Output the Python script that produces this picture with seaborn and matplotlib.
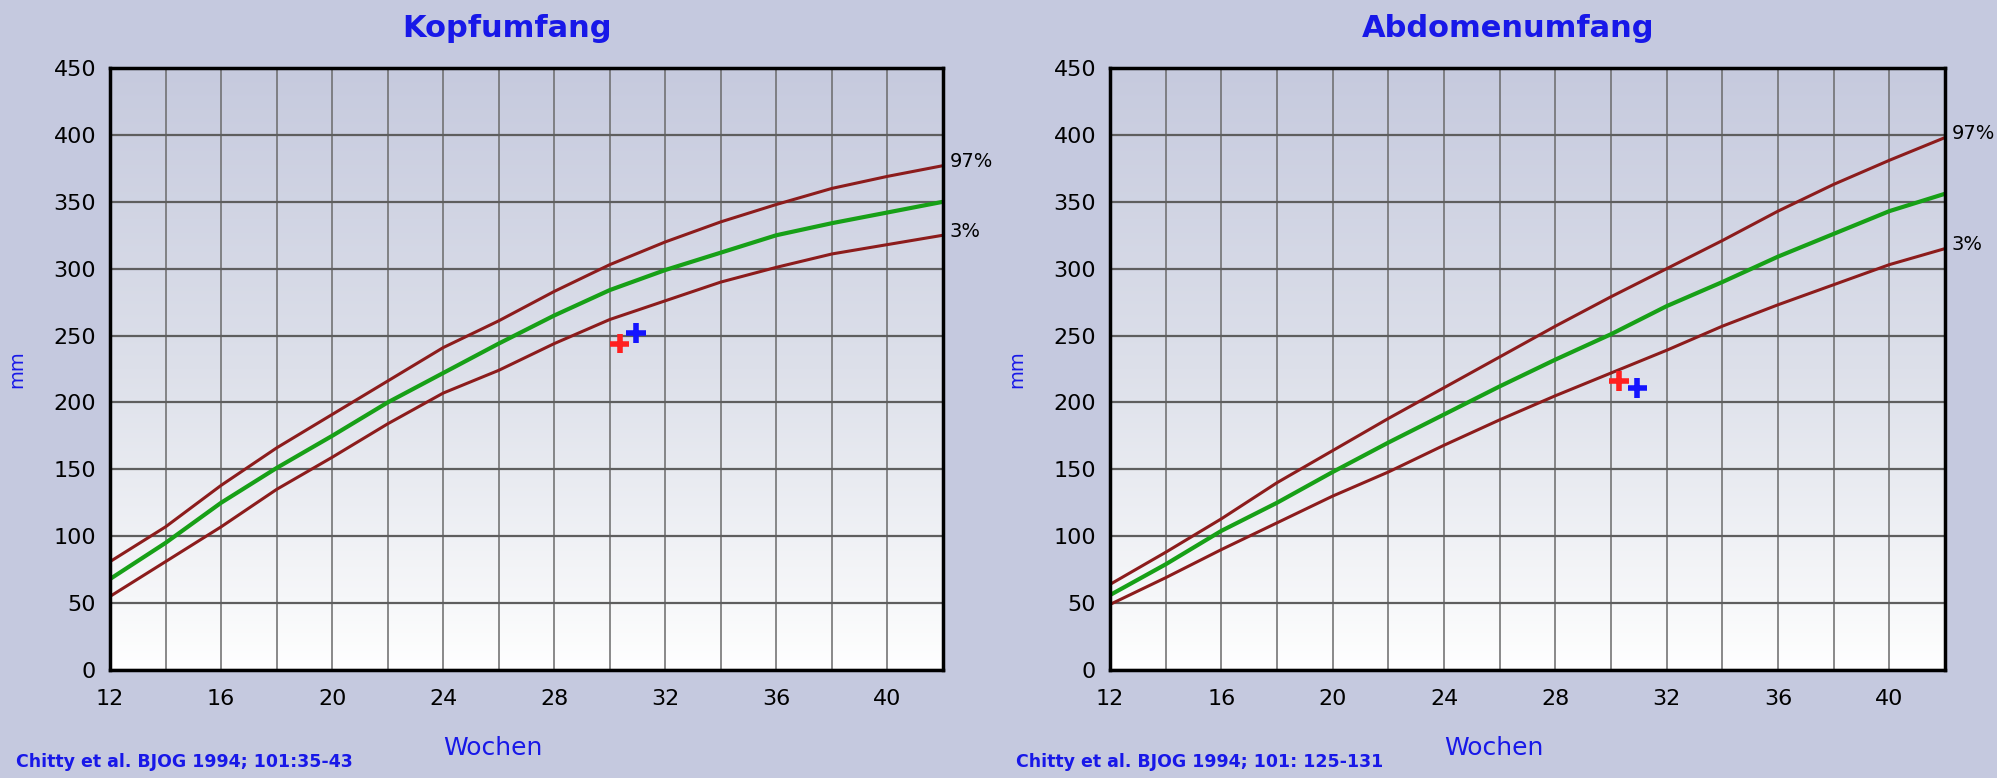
import numpy as np
import matplotlib
matplotlib.use("Agg")
import matplotlib.pyplot as plt
from matplotlib.colors import LinearSegmentedColormap
import seaborn as sns

sns.set_theme(style="whitegrid")
plt.rcParams['font.family'] = ['DejaVu Sans']

# ---------------------------------------------------------------
# Data (every 2 weeks)
# ---------------------------------------------------------------
weeks = [12, 14, 16, 18, 20, 22, 24, 26, 28, 30, 32, 34, 36, 38, 40, 42]

# Kopfumfang (head circumference), mm
hc_p97 = [81, 107, 138, 166, 191, 216, 241, 261, 283, 303, 320, 335, 348, 360, 369, 377]
hc_p50 = [68, 95, 125, 151, 175, 200, 222, 244, 265, 284, 299, 312, 325, 334, 342, 350]
hc_p3 = [55, 81, 107, 135, 159, 184, 207, 224, 244, 262, 276, 290, 301, 311, 318, 325]

# Abdomenumfang (abdominal circumference), mm
ac_p97 = [64, 88, 113, 140, 164, 188, 211, 234, 257, 279, 300, 321, 343, 363, 381, 398]
ac_p50 = [56, 79, 104, 125, 148, 170, 191, 212, 232, 251, 272, 290, 309, 326, 343, 356]
ac_p3 = [49, 69, 90, 110, 130, 148, 168, 187, 205, 222, 239, 257, 273, 288, 303, 315]

# measurements (week, mm): red / blue
hc_meas_weeks = [30.35, 30.95]
hc_meas_vals = [244, 252]
ac_meas_weeks = [30.28, 30.95]
ac_meas_vals = [216, 211]
meas_colors = ["#ff2020", "#1414ff"]

x_ticks = [12, 16, 20, 24, 28, 32, 36, 40]
y_ticks = [0, 50, 100, 150, 200, 250, 300, 350, 400, 450]

RED = "#8c1c1c"
GREEN = "#17a017"
BLUE_TXT = "#1818e8"
FIG_BG = "#c5c9df"

bg_cmap = LinearSegmentedColormap.from_list(
    "bg", [(0.0, "#ffffff"), (0.12, "#f6f7f9"), (0.5, "#dde0ea"), (1.0, "#c6cade")])


def draw_panel(ax, title, p97, p50, p3, m_weeks, m_vals, citation):
    # gradient background
    grad = np.linspace(0, 1, 256).reshape(-1, 1)
    ax.imshow(grad, extent=[12, 42, 0, 450], origin="lower", aspect="auto",
              cmap=bg_cmap, zorder=-2)

    sns.lineplot(x=weeks, y=p97, ax=ax, color=RED, linewidth=2.2)
    sns.lineplot(x=weeks, y=p50, ax=ax, color=GREEN, linewidth=3.0)
    sns.lineplot(x=weeks, y=p3, ax=ax, color=RED, linewidth=2.2)

    sns.scatterplot(x=m_weeks, y=m_vals, ax=ax, hue=[0, 1], palette=meas_colors,
                    marker="+", s=200, linewidth=4, legend=False, zorder=5)

    ax.set_xlim(12, 42)
    ax.set_ylim(0, 450)
    ax.set_xticks(x_ticks)
    ax.set_xticks(range(12, 43, 2), minor=True)
    ax.set_yticks(y_ticks)
    ax.grid(True, which="both", axis="x", color="#6a6a6a", linewidth=1.1)
    ax.grid(True, which="major", axis="y", color="#5e5e5e", linewidth=1.6)
    ax.tick_params(axis="both", which="both", length=0, labelsize=16, colors="black")
    ax.tick_params(axis="x", pad=14)
    ax.tick_params(axis="y", pad=10)
    for sp in ax.spines.values():
        sp.set_visible(True)
        sp.set_color("black")
        sp.set_linewidth(2.5)

    # percentile labels at the line ends
    ax.annotate("97%", xy=(weeks[-1], p97[-1]), xytext=(5, 3), textcoords="offset points",
                ha="left", va="center", fontsize=14, color="black", annotation_clip=False)
    ax.annotate("3%", xy=(weeks[-1], p3[-1]), xytext=(5, 3), textcoords="offset points",
                ha="left", va="center", fontsize=14, color="black", annotation_clip=False)

    ax.text(0.477, 1.066, title, transform=ax.transAxes, ha="center", va="center",
            fontsize=22, fontweight="bold", color=BLUE_TXT)
    ax.set_xlabel("Wochen", fontsize=18, color=BLUE_TXT)
    ax.xaxis.set_label_coords(0.46, -0.11)
    ax.set_ylabel("mm", fontsize=14, color=BLUE_TXT)
    ax.yaxis.set_label_coords(-0.10, 0.5)
    ax.text(-0.113, -0.153, citation, transform=ax.transAxes, ha="left", va="center",
            fontsize=12.5, fontweight="bold", color=BLUE_TXT)


fig = plt.figure(figsize=(19.97, 7.78), dpi=100, facecolor=FIG_BG)
ax1 = fig.add_axes([110 / 1997, 108 / 778, 833 / 1997, 602 / 778])
ax2 = fig.add_axes([1110 / 1997, 108 / 778, 835 / 1997, 602 / 778])

draw_panel(ax1, "Kopfumfang", hc_p97, hc_p50, hc_p3, hc_meas_weeks, hc_meas_vals,
           "Chitty et al. BJOG 1994; 101:35-43")
draw_panel(ax2, "Abdomenumfang", ac_p97, ac_p50, ac_p3, ac_meas_weeks, ac_meas_vals,
           "Chitty et al. BJOG 1994; 101: 125-131")

fig.savefig("out.png", dpi=100, facecolor=FIG_BG)
